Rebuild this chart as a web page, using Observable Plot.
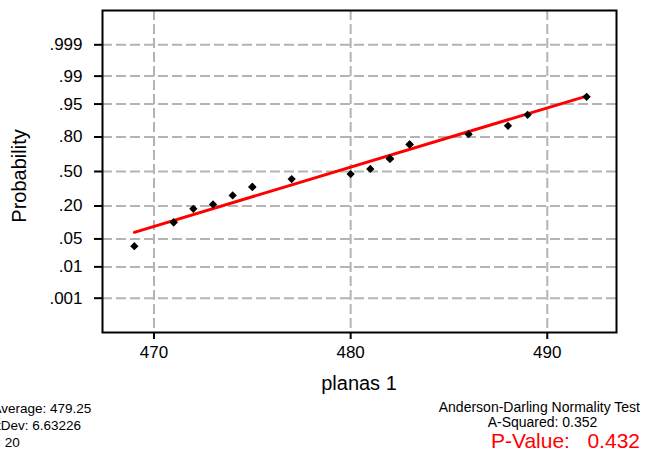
<!DOCTYPE html>
<html>
<head>
<meta charset="utf-8">
<script src="https://cdn.jsdelivr.net/npm/d3@7"></script>
<script src="https://cdn.jsdelivr.net/npm/@observablehq/plot@0.6"></script>
<style>
  html, body { margin: 0; padding: 0; background: white; overflow: hidden; }
  #chart svg { display: block; font-family: "Liberation Sans", Arial, sans-serif; }
</style>
</head>
<body>
<div id="chart"></div>
<script>
// ---- data ----
const values = [469, 471, 471, 472, 473, 474, 475, 475, 477, 480, 481, 482, 482, 482, 483, 483, 486, 488, 489, 492];
const probs  = [0.0343, 0.1078, 0.1078, 0.1814, 0.2108, 0.2794, 0.3529, 0.3529, 0.4265, 0.4755, 0.5245, 0.6225, 0.6225, 0.6225, 0.7451, 0.7451, 0.8186, 0.8676, 0.9167, 0.9657];
const probTicks  = [0.001, 0.01, 0.05, 0.20, 0.50, 0.80, 0.95, 0.99, 0.999];
const probLabels = [".001", ".01", ".05", ".20", ".50", ".80", ".95", ".99", ".999"];
const xTicks = [470, 480, 490];
const xLabel = "planas 1";
const yLabel = "Probability";
const statsLeft  = ["Average: 479.25", "StDev: 6.63226", "N: 20"];
const statsRight = ["Anderson-Darling Normality Test", "A-Squared: 0.352"];
const pValueText = "P-Value:   0.432";

// inverse normal CDF (Acklam) – used for the probability-scale transform
function probit(p) {
  const a=[-3.969683028665376e+01,2.209460984245205e+02,-2.759285104469687e+02,1.383577518672690e+02,-3.066479806614716e+01,2.506628277459239e+00];
  const b=[-5.447609879822406e+01,1.615858368580409e+02,-1.556989798598866e+02,6.680131188771972e+01,-1.328068155288572e+01];
  const c=[-7.784894002430293e-03,-3.223964580411365e-01,-2.400758277161838e+00,-2.549732539343734e+00,4.374664141464968e+00,2.938163982698783e+00];
  const d=[7.784695709041462e-03,3.224671290700398e-01,2.445134137142996e+00,3.754408661907416e+00];
  const pl = 0.02425, ph = 1 - pl;
  if (p < pl) { const q = Math.sqrt(-2*Math.log(p)); return (((((c[0]*q+c[1])*q+c[2])*q+c[3])*q+c[4])*q+c[5])/((((d[0]*q+d[1])*q+d[2])*q+d[3])*q+1); }
  if (p <= ph) { const q = p - 0.5, r = q*q; return (((((a[0]*r+a[1])*r+a[2])*r+a[3])*r+a[4])*r+a[5])*q/(((((b[0]*r+b[1])*r+b[2])*r+b[3])*r+b[4])*r+1); }
  const q = Math.sqrt(-2*Math.log(1-p)); return -(((((c[0]*q+c[1])*q+c[2])*q+c[3])*q+c[4])*q+c[5])/((((d[0]*q+d[1])*q+d[2])*q+d[3])*q+1);
}

const points = values.map((v, i) => ({x: v, z: probit(probs[i])}));
const tickZ = probTicks.map(probit);

// least-squares fit line x = a + b z
const mx = d3.mean(points, d => d.x), mz = d3.mean(points, d => d.z);
const sxz = d3.sum(points, d => (d.x - mx) * (d.z - mz));
const szz = d3.sum(points, d => (d.z - mz) ** 2);
const bFit = sxz / szz, aFit = mx - bFit * mz;
const xExt = d3.extent(values);
const fitLine = xExt.map(x => ({x, z: (x - aFit) / bFit}));

const gridStyle = {stroke: "#b4b4b4", strokeOpacity: 1, strokeWidth: 2, strokeDasharray: "10,4"};

const chart = Plot.plot({
  width: 646,
  height: 454,
  marginLeft: 102,
  marginRight: 30,
  marginTop: 10,
  marginBottom: 122,
  style: {fontFamily: "'Liberation Sans', Arial, sans-serif", background: "white"},
  x: {domain: [467.38, 493.52]},
  y: {domain: [-3.927, 3.927]},
  marks: [
    Plot.gridX(xTicks, gridStyle),
    Plot.gridY(tickZ, gridStyle),
    Plot.axisY(tickZ, {
      label: null, tickSize: 8, tickPadding: 12, fontSize: 17, strokeWidth: 2, stroke: "black", fill: "black",
      tickFormat: d => probLabels[tickZ.findIndex(t => Math.abs(t - d) < 1e-9)]
    }),
    Plot.axisX(xTicks, {label: null, tickSize: 7, tickPadding: 6, fontSize: 17, strokeWidth: 2, stroke: "black", fill: "black"}),
    Plot.line(fitLine, {x: "x", y: "z", stroke: "#ff0000", strokeWidth: 3}),
    Plot.dot(points, {x: "x", y: "z", symbol: "square", rotate: 45, r: 3.3, fill: "black"}),
    Plot.frame({stroke: "black", strokeWidth: 2})
  ]
});

document.getElementById("chart").appendChild(chart);

// annotations
const svg = d3.select(chart);
const fam = "'Liberation Sans', Arial, sans-serif";
function addText(t, x, y, size, anchor, color) {
  return svg.append("text").text(t).attr("x", x).attr("y", y)
    .attr("text-anchor", anchor).attr("font-size", size)
    .attr("font-family", fam).attr("fill", color || "black");
}
addText(xLabel, 359, 390, 20, "middle");
svg.append("text").text(yLabel)
  .attr("transform", "translate(26,176) rotate(-90)").attr("text-anchor", "middle")
  .attr("font-size", 20).attr("font-family", fam).attr("fill", "black");

const leftBase = [413.3, 430, 446.7];
const leftX = [-7.5, -12, -12.5];
statsLeft.forEach((t, i) => addText(t, leftX[i], leftBase[i], 13.5, "start"));
addText(statsRight[0], 640, 411.5, 14, "end");
addText(statsRight[1], 542.5, 427, 14, "middle");
addText(pValueText, 640, 447.5, 21, "end", "#ff0000").style("white-space", "pre");
</script>
</body>
</html>
